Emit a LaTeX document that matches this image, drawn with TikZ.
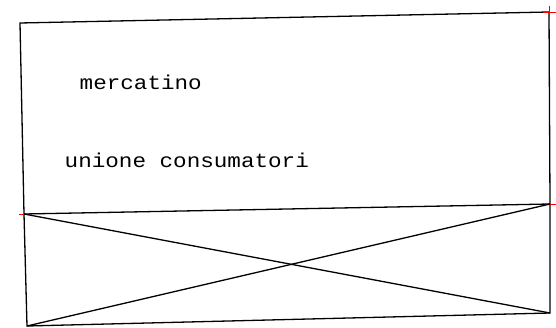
\documentclass[tikz,border=0pt]{standalone}
\usepackage{fontspec}
\setmonofont{Liberation Mono}
\usetikzlibrary{positioning}

\begin{document}
\begin{tikzpicture}[x=1pt,y=1pt,line width=1.3pt,line join=miter]
  \tikzstyle{label}=[font=\ttfamily\fontsize{20}{20}\selectfont,anchor=west,inner sep=0pt,xscale=1.13]
  \tikzstyle{tick}=[red,line width=0.8pt]

  \useasboundingbox (0,0) rectangle (556,327);

  % frame corners
  \coordinate (tl) at (20,304);
  \coordinate (tr) at (549,315);
  \coordinate (ml) at (24,113);
  \coordinate (mr) at (550,123);
  \coordinate (bl) at (27,1);
  \coordinate (br) at (550,14);

  \draw (tl) -- (tr) -- (mr) -- (br) -- (bl) -- (ml) -- cycle;
  \draw (ml) -- (mr);
  \draw (ml) -- (br);
  \draw (bl) -- (mr);

  % red marks
  \draw[tick] ([xshift=-6]tr) -- ([xshift=7]tr);
  \draw[tick] ([yshift=-6]tr) -- ([yshift=6]tr);
  \draw[tick] ([xshift=-5]ml) -- (ml);
  \draw[tick] (mr) -- ([xshift=6]mr);

  \node[label] (mercatino) at (79,245) {mercatino};
  \node[label] (unione)    at (64,167) {unione consumatori};

\end{tikzpicture}
\end{document}
